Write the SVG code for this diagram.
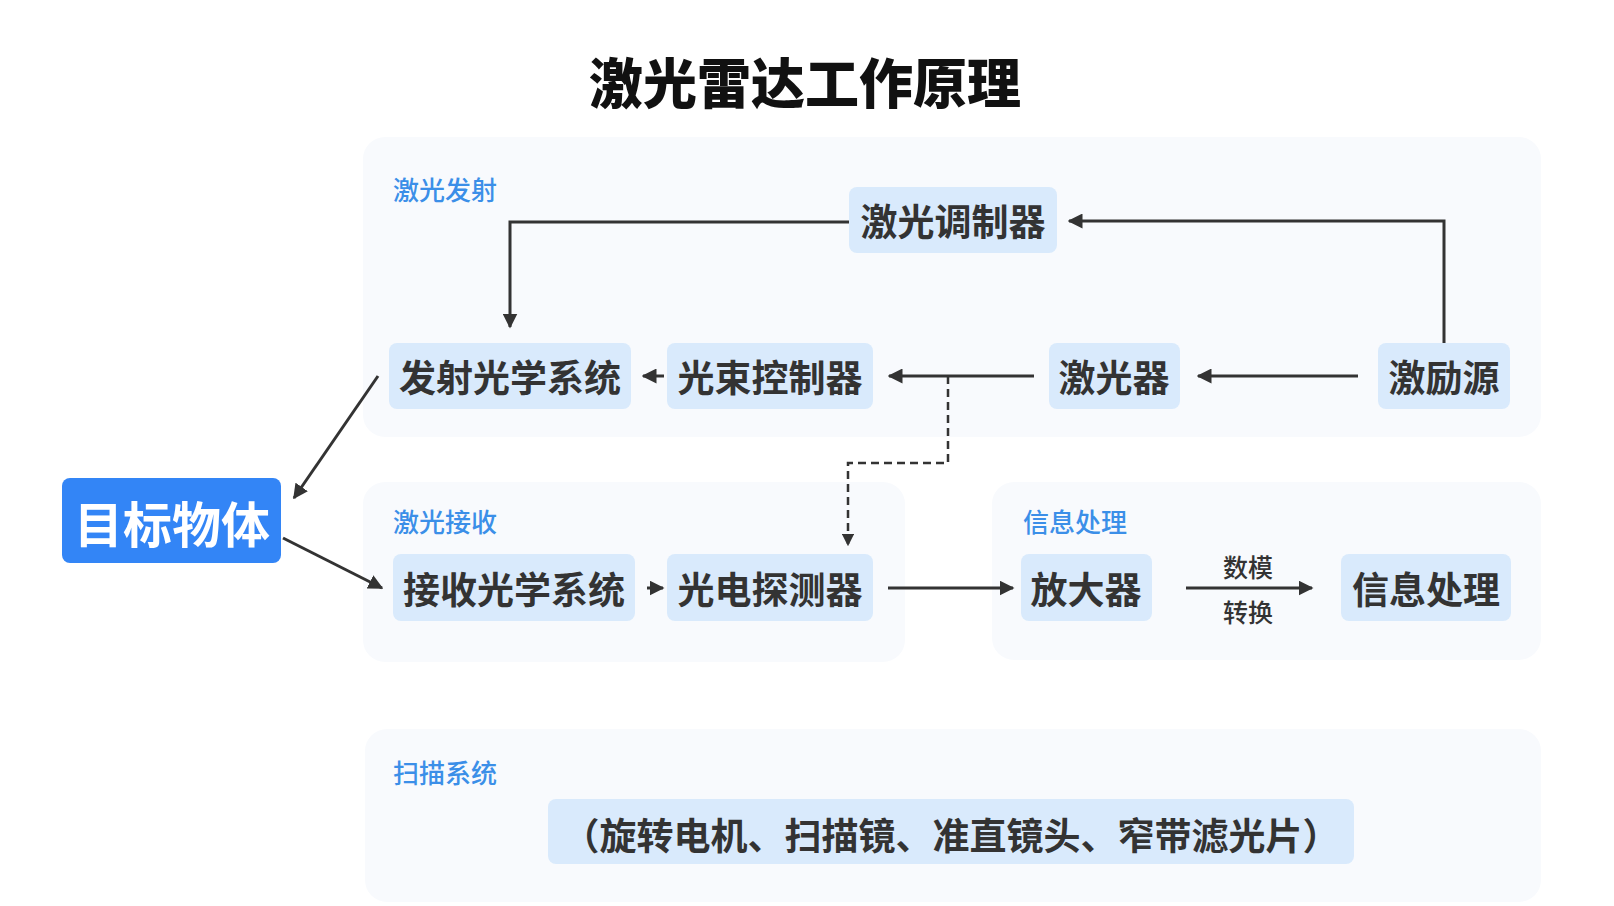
<svg xmlns="http://www.w3.org/2000/svg" width="1614" height="906" viewBox="0 0 1614 906">
<defs>
<marker id="ah" viewBox="0 0 10 10" refX="9" refY="5" markerWidth="5" markerHeight="5" orient="auto" markerUnits="strokeWidth"><path d="M0,0 L10,5 L0,10 z" fill="#333"/></marker>
<style>
text{font-family:"Noto Sans CJK SC","Noto Sans",sans-serif}
.panel{fill:#f8fafd}
.lab{fill:#3b8fe8;font-size:26px;font-weight:500}
.node rect{fill:#d9eafc}
.node text{fill:#333;font-size:37px;font-weight:700;text-anchor:middle;dominant-baseline:central}
.ln{stroke:#333;stroke-width:3;fill:none}
.dash{stroke:#333;stroke-width:2.5;fill:none;stroke-dasharray:8 5}
</style>
</defs>
<rect width="1614" height="906" fill="#fff"/>
<text x="805" y="80" font-size="54" font-weight="900" text-anchor="middle" dominant-baseline="central" fill="#111">激光雷达工作原理</text>
<g id="panels">
<rect class="panel" x="363" y="137" width="1178" height="300" rx="22"/>
<rect class="panel" x="363" y="482" width="542" height="180" rx="22"/>
<rect class="panel" x="992" y="482" width="549" height="178" rx="22"/>
<rect class="panel" x="365" y="729" width="1176" height="173" rx="22"/>
<text class="lab" x="393" y="188" dominant-baseline="central">激光发射</text>
<text class="lab" x="393" y="520" dominant-baseline="central">激光接收</text>
<text class="lab" x="1023" y="520" dominant-baseline="central">信息处理</text>
<text class="lab" x="393" y="771" dominant-baseline="central">扫描系统</text>
</g>
<g id="target" class="node"><rect x="62" y="478" width="219" height="85" rx="8" style="fill:#3385f6"/><text x="172" y="521" style="fill:#fff;font-size:49px">目标物体</text></g>
<g id="n-mod" class="node"><rect x="849" y="187" width="208" height="66" rx="8"/><text x="953" y="220">激光调制器</text></g>
<g id="n-tx" class="node"><rect x="389" y="343" width="242" height="66" rx="8"/><text x="510" y="376">发射光学系统</text></g>
<g id="n-beam" class="node"><rect x="667" y="343" width="206" height="66" rx="8"/><text x="770" y="376">光束控制器</text></g>
<g id="n-laser" class="node"><rect x="1049" y="343" width="131" height="66" rx="8"/><text x="1114" y="376">激光器</text></g>
<g id="n-src" class="node"><rect x="1378" y="343" width="132" height="66" rx="8"/><text x="1444" y="376">激励源</text></g>
<g id="n-rx" class="node"><rect x="393" y="554" width="242" height="67" rx="8"/><text x="514" y="588">接收光学系统</text></g>
<g id="n-det" class="node"><rect x="667" y="554" width="206" height="67" rx="8"/><text x="770" y="588">光电探测器</text></g>
<g id="n-amp" class="node"><rect x="1021" y="554" width="131" height="67" rx="8"/><text x="1086" y="588">放大器</text></g>
<g id="n-info" class="node"><rect x="1341" y="554" width="170" height="67" rx="8"/><text x="1426" y="588">信息处理</text></g>
<g id="n-scan" class="node"><rect x="548" y="799" width="806" height="65" rx="8"/><text x="951" y="834">（旋转电机、扫描镜、准直镜头、窄带滤光片）</text></g>
<g id="connectors">
<path class="ln" d="M849,222 H510 V327" marker-end="url(#ah)"/>
<path class="ln" d="M1444,343 V221 H1069" marker-end="url(#ah)"/>
<path class="ln" d="M1358,376 H1198" marker-end="url(#ah)"/>
<path class="ln" d="M1034,376 H889" marker-end="url(#ah)"/>
<path class="ln" d="M664,376 H643" marker-end="url(#ah)"/>
<path class="dash" d="M948,376 V463 H848 V545" marker-end="url(#ah)"/>
<path class="ln" d="M378,376 L294,498" marker-end="url(#ah)"/>
<path class="ln" d="M283,538 L382,588" marker-end="url(#ah)"/>
<path class="ln" d="M647,588 H663" marker-end="url(#ah)"/>
<path class="ln" d="M888,588 H1013" marker-end="url(#ah)"/>
<path class="ln" d="M1186,588 H1312" marker-end="url(#ah)"/>
<text x="1248" y="566" font-size="25" font-weight="500" fill="#333" text-anchor="middle" dominant-baseline="central">数模</text>
<text x="1248" y="611" font-size="25" font-weight="500" fill="#333" text-anchor="middle" dominant-baseline="central">转换</text>
</g>
</svg>
